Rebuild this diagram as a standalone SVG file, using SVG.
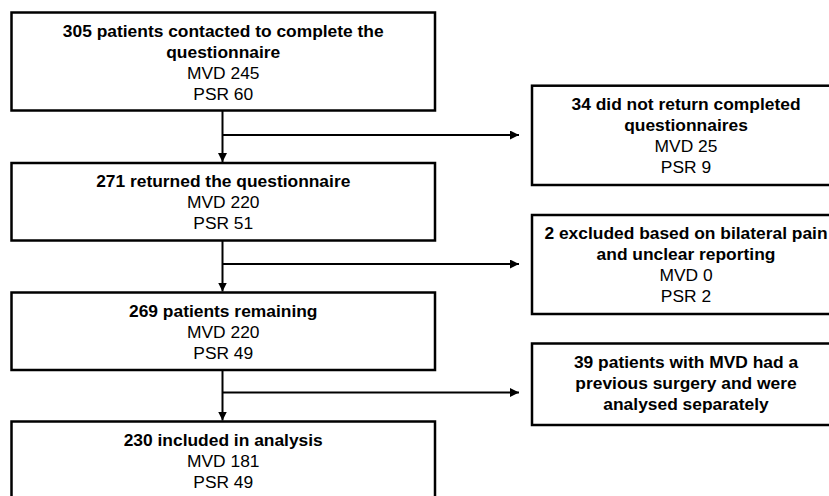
<svg xmlns="http://www.w3.org/2000/svg" width="829" height="496" viewBox="0 0 829 496">
<style>
.box{fill:#fff;stroke:#000;stroke-width:2.5}
.t{font-family:"Liberation Sans",Arial,sans-serif;font-size:17.4px;fill:#000;text-anchor:middle}
.b{font-weight:bold}
.ln{fill:none;stroke:#000;stroke-width:2}
</style>
<defs>
<marker id="ah" viewBox="0 0 10 10" refX="10" refY="5" markerWidth="4.5" markerHeight="4.5" orient="auto" markerUnits="strokeWidth">
<path d="M0,0 L10,5 L0,10 z" fill="#000"/>
</marker>
</defs>
<rect width="829" height="496" fill="#fff"/>
<g id="connectors">
<line class="ln" x1="222.5" y1="111" x2="222.5" y2="162" marker-end="url(#ah)"/>
<line class="ln" x1="222.5" y1="135" x2="519" y2="135" marker-end="url(#ah)"/>
<line class="ln" x1="222.5" y1="241" x2="222.5" y2="291.5" marker-end="url(#ah)"/>
<line class="ln" x1="222.5" y1="264" x2="519" y2="264" marker-end="url(#ah)"/>
<line class="ln" x1="222.5" y1="371" x2="222.5" y2="420.5" marker-end="url(#ah)"/>
<line class="ln" x1="222.5" y1="392.5" x2="519" y2="392.5" marker-end="url(#ah)"/>
</g>
<g id="n1">
<rect class="box" x="11.5" y="12.5" width="423.5" height="98"/>
<text class="t b" x="223.25" y="36.7">305 patients contacted to complete the</text>
<text class="t b" x="223.25" y="57.7">questionnaire</text>
<text class="t" x="223.25" y="78.7">MVD 245</text>
<text class="t" x="223.25" y="99.7">PSR 60</text>
</g>
<g id="n2">
<rect class="box" x="11.5" y="163" width="423.5" height="77.5"/>
<text class="t b" x="223.25" y="187">271 returned the questionnaire</text>
<text class="t" x="223.25" y="208">MVD 220</text>
<text class="t" x="223.25" y="229">PSR 51</text>
</g>
<g id="n3">
<rect class="box" x="11.5" y="292.5" width="423.5" height="77.5"/>
<text class="t b" x="223.25" y="316.5">269 patients remaining</text>
<text class="t" x="223.25" y="337.5">MVD 220</text>
<text class="t" x="223.25" y="358.5">PSR 49</text>
</g>
<g id="n4">
<rect class="box" x="11.5" y="421.5" width="423.5" height="90"/>
<text class="t b" x="223.25" y="445.5">230 included in analysis</text>
<text class="t" x="223.25" y="466.5">MVD 181</text>
<text class="t" x="223.25" y="487.5">PSR 49</text>
</g>
<g id="r1">
<rect class="box" x="532" y="85.7" width="310" height="99.3"/>
<text class="t b" x="686" y="109.7">34 did not return completed</text>
<text class="t b" x="686" y="130.7">questionnaires</text>
<text class="t" x="686" y="151.7">MVD 25</text>
<text class="t" x="686" y="172.7">PSR 9</text>
</g>
<g id="r2">
<rect class="box" x="532" y="215" width="310" height="99"/>
<text class="t b" x="686" y="239">2 excluded based on bilateral pain</text>
<text class="t b" x="686" y="260">and unclear reporting</text>
<text class="t" x="686" y="281">MVD 0</text>
<text class="t" x="686" y="302">PSR 2</text>
</g>
<g id="r3">
<rect class="box" x="532" y="343.5" width="310" height="81.5"/>
<text class="t b" x="686" y="367.5">39 patients with MVD had a</text>
<text class="t b" x="686" y="388.5">previous surgery and were</text>
<text class="t b" x="686" y="409.5">analysed separately</text>
</g>
</svg>
